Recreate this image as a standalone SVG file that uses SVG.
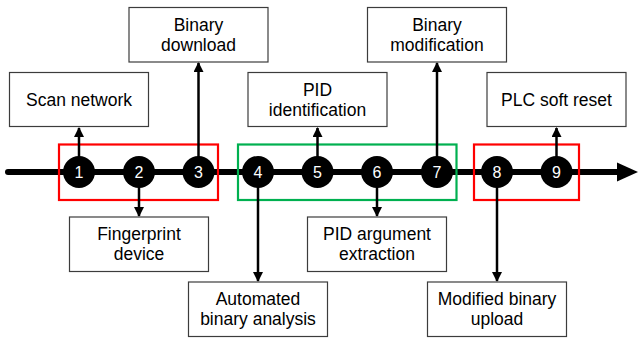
<svg xmlns="http://www.w3.org/2000/svg" width="639" height="339" viewBox="0 0 639 339">
  <style>
    .box { fill: #ffffff; stroke: #3c3c3c; stroke-width: 1.2; }
    .lbl { font-family: "Liberation Sans", Arial, sans-serif; font-size: 17.5px; fill: #000000; text-anchor: middle; }
    .num { font-family: "Liberation Sans", Arial, sans-serif; font-size: 16px; fill: #ffffff; text-anchor: middle; }
    .dot { fill: #000000; }
    .link { stroke: #000000; stroke-width: 2.5; fill: none; marker-end: url(#head); }
    .grp { fill: none; stroke-width: 2.2; }
  </style>
  <defs>
    <marker id="head" viewBox="0 0 10 10" refX="9" refY="5" markerWidth="4" markerHeight="4" orient="auto" markerUnits="strokeWidth">
      <path d="M0,0 L10,5 L0,10 Z" fill="#000000"/>
    </marker>
  </defs>

  <!-- timeline -->
  <g id="timeline">
    <line x1="8" y1="172" x2="620" y2="172" stroke="#000000" stroke-width="6" stroke-linecap="round"/>
    <polygon points="617,162.5 638,172 617,181.5" fill="#000000"/>
  </g>

  <!-- phase frames -->
  <g id="phases">
    <rect class="grp" x="59" y="144.5" width="159" height="55.5" stroke="#ff0000"/>
    <rect class="grp" x="238" y="144.5" width="218.5" height="55.5" stroke="#00b050"/>
    <rect class="grp" x="474" y="144.5" width="105" height="55.5" stroke="#ff0000"/>
  </g>

  <!-- connectors -->
  <g id="connectors">
    <line class="link" x1="79" y1="160" x2="79" y2="128"/>
    <line class="link" x1="139" y1="184" x2="139" y2="216"/>
    <line class="link" x1="198.5" y1="160" x2="198.5" y2="63"/>
    <line class="link" x1="258" y1="184" x2="258" y2="281"/>
    <line class="link" x1="317.5" y1="160" x2="317.5" y2="128"/>
    <line class="link" x1="377" y1="184" x2="377" y2="216"/>
    <line class="link" x1="437" y1="160" x2="437" y2="63"/>
    <line class="link" x1="497" y1="184" x2="497" y2="281"/>
    <line class="link" x1="556.5" y1="160" x2="556.5" y2="128"/>
  </g>

  <!-- step markers -->
  <g id="step1"><circle class="dot" cx="79" cy="172" r="16"/><text class="num" x="79" y="178">1</text></g>
  <g id="step2"><circle class="dot" cx="139" cy="172" r="16"/><text class="num" x="139" y="178">2</text></g>
  <g id="step3"><circle class="dot" cx="198.5" cy="172" r="16"/><text class="num" x="198.5" y="178">3</text></g>
  <g id="step4"><circle class="dot" cx="258" cy="172" r="16"/><text class="num" x="258" y="178">4</text></g>
  <g id="step5"><circle class="dot" cx="317.5" cy="172" r="16"/><text class="num" x="317.5" y="178">5</text></g>
  <g id="step6"><circle class="dot" cx="377" cy="172" r="16"/><text class="num" x="377" y="178">6</text></g>
  <g id="step7"><circle class="dot" cx="437" cy="172" r="16"/><text class="num" x="437" y="178">7</text></g>
  <g id="step8"><circle class="dot" cx="497" cy="172" r="16"/><text class="num" x="497" y="178">8</text></g>
  <g id="step9"><circle class="dot" cx="556.5" cy="172" r="16"/><text class="num" x="556.5" y="178">9</text></g>

  <!-- activity boxes -->
  <g id="scan-network">
    <rect class="box" x="9.5" y="72.5" width="139" height="54"/>
    <text class="lbl" x="79" y="105.5">Scan network</text>
  </g>
  <g id="fingerprint-device">
    <rect class="box" x="69.5" y="217" width="139" height="54.5"/>
    <text class="lbl" x="139" y="240">Fingerprint</text>
    <text class="lbl" x="139" y="260">device</text>
  </g>
  <g id="binary-download">
    <rect class="box" x="129" y="7.5" width="139" height="54.5"/>
    <text class="lbl" x="198.5" y="31">Binary</text>
    <text class="lbl" x="198.5" y="51">download</text>
  </g>
  <g id="automated-binary-analysis">
    <rect class="box" x="188.5" y="282" width="139" height="54.5"/>
    <text class="lbl" x="258" y="305">Automated</text>
    <text class="lbl" x="258" y="325">binary analysis</text>
  </g>
  <g id="pid-identification">
    <rect class="box" x="248" y="72.5" width="139" height="54"/>
    <text class="lbl" x="317.5" y="95.5">PID</text>
    <text class="lbl" x="317.5" y="115.5">identification</text>
  </g>
  <g id="pid-argument-extraction">
    <rect class="box" x="307.5" y="217" width="139" height="54.5"/>
    <text class="lbl" x="377" y="240">PID argument</text>
    <text class="lbl" x="377" y="260">extraction</text>
  </g>
  <g id="binary-modification">
    <rect class="box" x="367.5" y="7.5" width="139" height="54.5"/>
    <text class="lbl" x="437" y="31">Binary</text>
    <text class="lbl" x="437" y="51">modification</text>
  </g>
  <g id="modified-binary-upload">
    <rect class="box" x="427.5" y="282" width="139" height="54.5"/>
    <text class="lbl" x="497" y="305">Modified binary</text>
    <text class="lbl" x="497" y="325">upload</text>
  </g>
  <g id="plc-soft-reset">
    <rect class="box" x="487" y="72.5" width="139" height="54"/>
    <text class="lbl" x="556.5" y="105.5">PLC soft reset</text>
  </g>
</svg>
